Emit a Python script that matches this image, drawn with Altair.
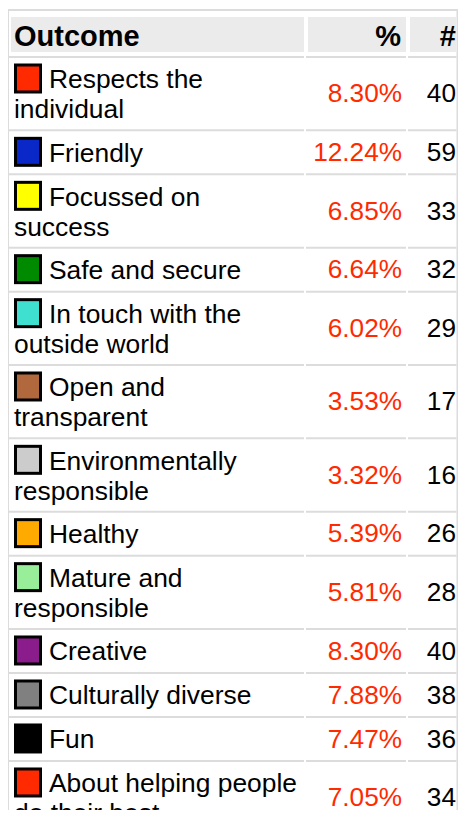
import altair as alt
import pandas as pd

# ---------------- data ----------------
headers = ["Outcome", "%", "#"]
outcomes = [
    "Respects the individual", "Friendly", "Focussed on success", "Safe and secure",
    "In touch with the outside world", "Open and transparent", "Environmentally responsible",
    "Healthy", "Mature and responsible", "Creative", "Culturally diverse", "Fun",
    "About helping people do their best",
]
label_lines = [
    ["Respects the", "individual"], ["Friendly"], ["Focussed on", "success"], ["Safe and secure"],
    ["In touch with the", "outside world"], ["Open and", "transparent"], ["Environmentally", "responsible"],
    ["Healthy"], ["Mature and", "responsible"], ["Creative"], ["Culturally diverse"], ["Fun"],
    ["About helping people", "do their best"],
]
percents = [8.30, 12.24, 6.85, 6.64, 6.02, 3.53, 3.32, 5.39, 5.81, 8.30, 7.88, 7.47, 7.05]
counts = [40, 59, 33, 32, 29, 17, 16, 26, 28, 40, 38, 36, 34]
swatch_colors = ["#ff2a00", "#0a28c8", "#ffff00", "#008a00", "#40e0d0", "#b0683c", "#cccccc",
                 "#ffaa00", "#99ee99", "#8b1c8b", "#808080", "#000000", "#ff2a00"]

# ---------------- layout ----------------
X0, Y0 = 8, 8
W, H = 450, 802
FONT = "Liberation Sans"
GRID = "#dcdcdc"
HEAD_BG = "#ebebeb"
RED = "#ff2a00"
RIGHT = X0 + W
COLS = [(9, 304), (306, 406), (408, RIGHT - 1.5)]
HEAD_COLS = [(11, 304), (308, 406), (410, RIGHT - 2)]
FIRST_TOP, ROW_BASE, LINE_H = 56, 44, 29.33

xs = alt.Scale(domain=[X0, X0 + W], nice=False, zero=False)
ys = alt.Scale(domain=[Y0, Y0 + H], nice=False, zero=False, reverse=True)

tops = []
t = FIRST_TOP
for lines in label_lines:
    tops.append(t)
    t += ROW_BASE + (len(lines) - 1) * LINE_H
heights = [ROW_BASE + (len(l) - 1) * LINE_H for l in label_lines]

# rectangles: frame, header, row lines
frame = [
    dict(x=7, x2=RIGHT, y=9, y2=11, fill=GRID),
    dict(x=7, x2=9, y=9, y2=Y0 + H, fill=GRID),
    dict(x=RIGHT - 1.5, x2=RIGHT, y=9, y2=Y0 + H, fill=GRID),
]
for (a, b) in HEAD_COLS:
    frame.append(dict(x=a, x2=b, y=17, y2=52, fill=HEAD_BG))
for top in tops + [t]:
    for (a, b) in COLS:
        frame.append(dict(x=a, x2=b, y=top, y2=top + 2, fill=GRID))
frame_df = pd.DataFrame(frame)

sw_outer = pd.DataFrame([dict(x=14, x2=42, y=tp + 7.5, y2=tp + 37.5) for tp in tops])
sw_inner = pd.DataFrame([dict(x=17, x2=39, y=tp + 10.5, y2=tp + 34.5, fill=c)
                         for tp, c in zip(tops, swatch_colors)])

lab = []
for tp, lines in zip(tops, label_lines):
    for k, line in enumerate(lines):
        lab.append(dict(x=49 if k == 0 else 14, y=tp + 32.3 + k * 30, text=line))
lab_df = pd.DataFrame(lab)

CNT_X = RIGHT - 2
pct_df = pd.DataFrame(dict(x=402, y=[tp + h / 2 + 9.8 for tp, h in zip(tops, heights)],
                           text=[f"{p:.2f}%" for p in percents]))
cnt_df = pd.DataFrame(dict(x=CNT_X, y=[tp + h / 2 + 9.8 for tp, h in zip(tops, heights)],
                           text=[str(c) for c in counts]))
head_l = pd.DataFrame(dict(x=[14], y=[45.7], text=[headers[0]]))
head_r = pd.DataFrame(dict(x=[401, CNT_X], y=[45.7, 45.7], text=headers[1:]))


def rects(df, color=None):
    enc = dict(x=alt.X("x:Q", scale=xs, axis=None), x2="x2:Q",
               y=alt.Y("y:Q", scale=ys, axis=None), y2="y2:Q")
    if color is None:
        enc["fill"] = alt.Fill("fill:N", scale=None, legend=None)
        return alt.Chart(df).mark_rect(clip=True, strokeWidth=0).encode(**enc)
    return alt.Chart(df).mark_rect(clip=True, color=color, strokeWidth=0).encode(**enc)


def texts(df, align, color, size, weight="normal"):
    return alt.Chart(df).mark_text(
        align=align, baseline="alphabetic", font=FONT, fontSize=size,
        fontWeight=weight, color=color, clip=True,
    ).encode(
        x=alt.X("x:Q", scale=xs, axis=None),
        y=alt.Y("y:Q", scale=ys, axis=None),
        text="text:N",
    )


chart = alt.layer(
    rects(frame_df),
    rects(sw_outer, "#000000"),
    rects(sw_inner),
    texts(lab_df, "left", "#000000", 26.4),
    texts(pct_df, "right", RED, 26.2),
    texts(cnt_df, "right", "#000000", 26.2),
    texts(head_l, "left", "#000000", 29, "bold"),
    texts(head_r, "right", "#000000", 29, "bold"),
).properties(
    width=W, height=H, padding=0, autosize=alt.AutoSizeParams(type="none"),
    background="#ffffff",
).configure_view(strokeWidth=0)

chart.save("out.html", embed_options={"renderer": "svg", "actions": False})
